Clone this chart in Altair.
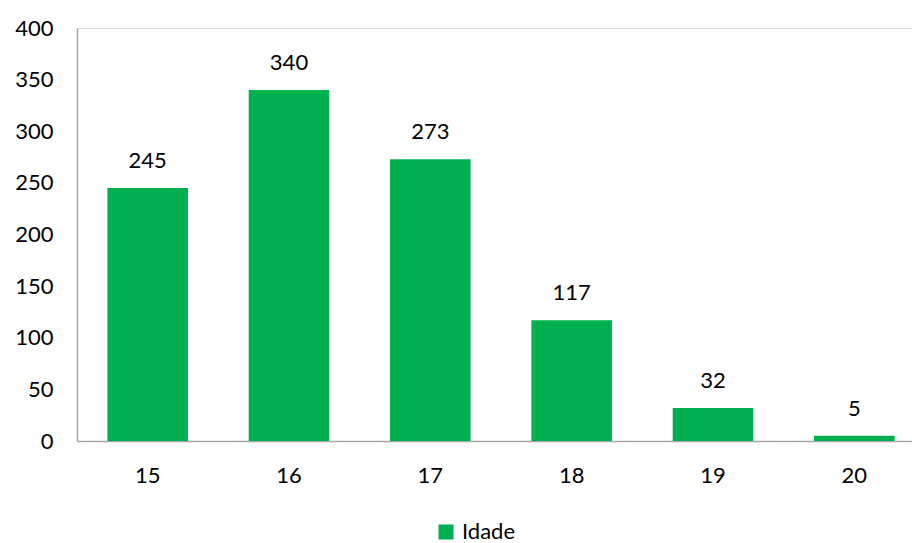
import altair as alt
import pandas as pd

ages = ["15", "16", "17", "18", "19", "20"]
counts = [245, 340, 273, 117, 32, 5]
series = ["Idade"] * len(ages)

df = pd.DataFrame({"idade": ages, "n": counts, "serie": series})

FONT = "Lato"
GREEN = "#00B050"
FS = 22

base = alt.Chart(df).encode(
    x=alt.X("idade:N", sort=ages, title=None,
            scale=alt.Scale(range=[0, 848], paddingInner=0.43, paddingOuter=0.215),
            axis=alt.Axis(labelAngle=0, ticks=False, labelPadding=34, labelBaseline="middle",
                          labelFontSize=FS, labelFont=FONT, labelColor="#000000",
                          domainColor="#A6A6A6", domainWidth=1.5, grid=False)),
    y=alt.Y("n:Q", title=None,
            scale=alt.Scale(domain=[0, 400], nice=False),
            axis=alt.Axis(values=[0, 50, 100, 150, 200, 250, 300, 350, 400], ticks=False,
                          labelPadding=24, labelFontSize=FS, labelFont=FONT,
                          labelColor="#000000", domainColor="#A6A6A6", domainWidth=1.5,
                          grid=False)),
)

bars = base.mark_bar(color=GREEN).encode(
    color=alt.Color("serie:N", title=None,
                    scale=alt.Scale(range=[GREEN]),
                    legend=alt.Legend(orient="none", legendX=358, legendY=493,
                                      padding=0,
                                      symbolType="square", symbolSize=225,
                                      symbolStrokeWidth=0, symbolOpacity=1,
                                      labelFontSize=FS, labelFont=FONT,
                                      labelColor="#000000", labelOffset=5))
)

labels = base.mark_text(baseline="alphabetic", dy=-20, fontSize=FS, font=FONT,
                        color="#000000").encode(text="n:Q")

chart = (bars + labels).properties(
    width=835, height=413,
    autosize=alt.AutoSizeParams(type="none"),
    padding={"left": 77, "top": 28, "right": 0, "bottom": 102},
).configure_view(stroke=None).configure(background="white")

chart.save("out.html", embed_options={"renderer": "svg", "actions": False})
